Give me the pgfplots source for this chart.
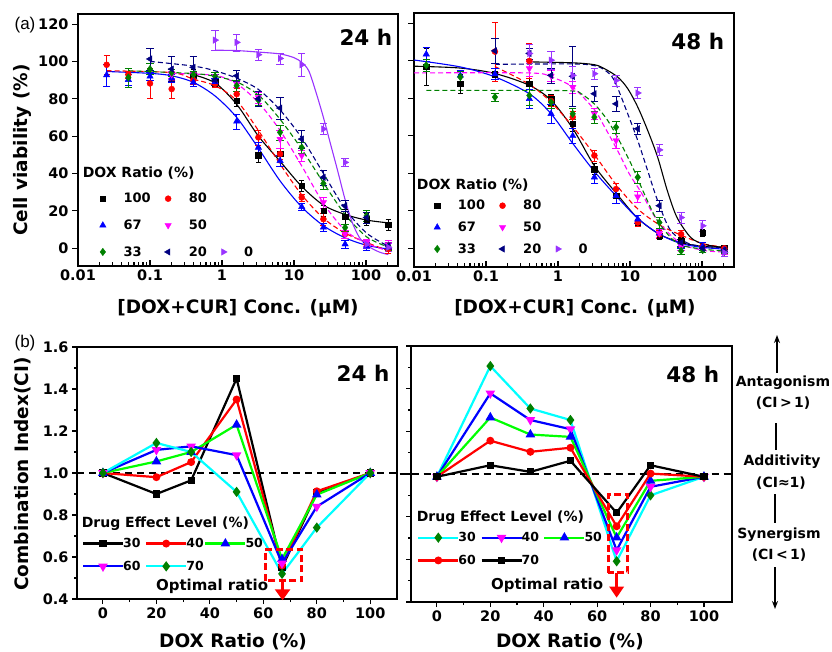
\documentclass[border=0pt]{standalone}
\usepackage{fontspec}
\setmainfont{DejaVu Sans}
\newfontfamily\lib{Liberation Sans}
\usepackage{pgfplots}
\pgfplotsset{compat=1.18}
\usetikzlibrary{arrows.meta}

\definecolor{cvio}{HTML}{9933FF}
\definecolor{cnavy}{HTML}{000080}
\definecolor{cdg}{HTML}{008000}
\definecolor{clg}{HTML}{00FF00}
\definecolor{ccy}{HTML}{00FFFF}
\definecolor{cmag}{HTML}{FF00FF}
\definecolor{cred}{HTML}{FF0000}
\definecolor{cblue}{HTML}{0000FF}

\newcommand\fsz[1]{\fontsize{#1}{#1}\selectfont}
% fixed-width legend texts
\newcommand\la[1]{\makebox[34.6pt][l]{#1}}
\newcommand\lb[1]{\makebox[24.6pt][l]{#1}}
\newcommand\lc[2]{\hspace*{-3pt}\makebox[#1pt][l]{#2}}

\pgfplotsset{
  mybase/.style={
    scale only axis, clip=false,
    axis line style={line width=1.6pt},
    tick style={line width=1.1pt, black},
    tick pos=left,
    /pgf/number format/assume math mode=true,
    tick label style={font=\bfseries\fsz{14.5}},
    label style={font=\bfseries\fsz{18.5}},
    legend cell align=left,
  },
  mycurve/.style={line width=1.1pt, smooth, forget plot},
  mydcurve/.style={line width=1.1pt, smooth, forget plot, dash pattern=on 5pt off 3pt},
  mypts/.style={only marks, error bars/y dir=both, error bars/y explicit, error bars/error bar style={line width=0.8pt}},
  mycil/.style={line width=2.2pt, mark size=3pt, mark options={solid}},
}

\begin{document}
\begin{tikzpicture}
\path[use as bounding box] (0pt,0pt) rectangle (832pt,651pt);

% ---------------- (a) 24 h ----------------
\begin{semilogxaxis}[mybase, at={(78pt,385pt)}, width=320pt, height=252pt,
  xmin=0.01, xmax=278, ymin=-9.6, ymax=125.4,
  xtick={0.01,0.1,1,10,100}, xticklabels={0.01,0.1,1,10,100},
  minor xtick={0.02,0.03,0.04,0.05,0.06,0.07,0.08,0.09,0.2,0.3,0.4,0.5,0.6,0.7,0.8,0.9,2,3,4,5,6,7,8,9,20,30,40,50,60,70,80,90,200},
  ytick={0,20,40,60,80,100,120},
  major tick length=6pt, minor tick length=3.5pt,
  xtick align=inside, ytick align=outside,
  xlabel={[DOX+CUR] Conc. (μM)},
  ylabel={Cell viability (\%)},
  xlabel style={at={(rel axis cs:0.5,-0.167)}, anchor=center},
  ylabel style={at={(rel axis cs:-0.172,0.46)}, anchor=center},
  legend columns=3,
  legend image code/.code={\path[draw=none, fill=none] (0pt,0pt) -- (26.7pt,0pt); \draw[mark repeat=2,mark phase=2,#1] plot coordinates {(0pt,0pt)(8pt,0pt)(16pt,0pt)};},
  legend style={draw=none, fill=none, at={(0.052,0.298)}, anchor=north west,
    inner sep=0pt, font=\bfseries\fsz{13}, row sep=11.5pt,
    /tikz/every odd column/.append style={column sep=0pt},
    /tikz/every even column/.append style={column sep=0pt}},
]
\addplot[cblue, mycurve] coordinates {(0.025,94.6)(0.1,93.6)(0.2,92.3)(0.4,88.8)(0.8,81.5)(1.6,70)(3.2,53.5)(6.4,36)(12.8,22)(25.6,12)(51.2,5.5)(102,1.5)(204,-0.5)};
\addplot[black, mycurve] coordinates {(0.375,93.2)(0.8,88.5)(1.6,77)(3.2,60)(6.4,46.5)(12.8,33)(25.6,23)(51.2,18)(102,15)(204,13.5)};
\addplot[cred, mydcurve] coordinates {(0.025,95)(0.2,94)(0.4,90.5)(0.8,87)(1.6,79)(3.2,63)(6.4,45)(12.8,28.5)(25.6,16)(51.2,8)(102,3)(204,-1.5)};
\addplot[cmag, mydcurve] coordinates {(0.2,93.5)(0.8,92.5)(1.6,88)(3.2,78)(6.4,63)(12.8,44)(25.6,24)(51.2,9.5)(102,2.5)(204,-1.5)};
\addplot[cdg, mydcurve] coordinates {(0.05,95)(0.4,93.5)(0.8,92)(1.6,89)(3.2,82)(6.4,69)(12.8,53)(25.6,35)(51.2,18)(102,6)(204,0.5)};
\addplot[cnavy, mydcurve] coordinates {(0.1,100)(0.4,97.5)(0.8,95)(1.6,91)(3.2,85)(6.4,74)(12.8,59)(25.6,40)(51.2,21)(102,8)(204,1)};
\addplot[cvio, mycurve] coordinates {(0.8,106)(1.6,105.8)(3.2,105)(6.4,104)(10,102)(12.8,99.5)(16,95)(20,84)(25.6,70)(32,56)(40,42)(51.2,26)(64,14)(80,6)(102,1.5)(150,-2)(204,-3.5)};

\addplot[black, mypts, mark=square*, mark size=2.7pt] coordinates {(0.4,92.9)+-(0,3)(0.8,88.8)+-(0,2)(1.6,79)+-(0,3)(3.2,49.8)+-(0,4)(6.4,50.4)+-(0,3)(12.8,33.4)+-(0,3)(25.6,20)+-(0,3)(51.2,16.8)+-(0,4)(102,15.5)+-(0,3)(204,12.5)+-(0,3)};
\addlegendentry{\la{100}}
\addplot[cred, mypts, mark=*, mark size=3pt] coordinates {(0.025,98.2)+-(0,5)(0.05,93)+-(0,2)(0.1,88.2)+-(0,8)(0.2,85.2)+-(0,5)(0.4,90)+-(0,2)(0.8,88)+-(0,2)(1.6,82.5)+-(0,3)(3.2,59.3)+-(0,4)(6.4,50.4)+-(0,3)(12.8,27.1)+-(0,2)(25.6,15.5)+-(0,3)(51.2,7.5)+-(0,2)(102,2)+-(0,2)(204,-0.5)+-(0,2)};
\addlegendentry{\lb{80}}
\addlegendimage{empty legend}\addlegendentry{}
\addplot[cblue, mypts, mark=triangle*, mark size=3.7pt] coordinates {(0.025,92.7)+-(0,5.8)(0.05,90.2)+-(0,3)(0.1,92)+-(0,2)(0.2,91)+-(0,2)(0.4,88.8)+-(0,2)(0.8,89)+-(0,2)(1.6,67.9)+-(0,4)(3.2,53.9)+-(0,3)(6.4,46.8)+-(0,3)(12.8,22.1)+-(0,2)(25.6,11.1)+-(0,2)(51.2,2.1)+-(0,2)(102,1)+-(0,2)(204,0.4)+-(0,2)};
\addlegendentry{\la{67}}
\addplot[cmag, mypts, mark=triangle*, mark size=3.7pt, mark options={rotate=180}] coordinates {(0.2,93)+-(0,2)(0.4,93)+-(0,2)(0.8,92)+-(0,2)(1.6,88)+-(0,2)(3.2,80.7)+-(0,3)(6.4,58.4)+-(0,5)(12.8,49.5)+-(0,3)(25.6,24.5)+-(0,3)(51.2,7.5)+-(0,2)(102,3)+-(0,2)(204,2)+-(0,2)};
\addlegendentry{\lb{50}}
\addlegendimage{empty legend}\addlegendentry{}
\addplot[cdg, mypts, mark=diamond*, mark size=3.7pt] coordinates {(0.05,91.4)+-(0,5)(0.1,95.9)+-(0,3)(0.2,94)+-(0,2)(0.4,93)+-(0,2)(0.8,92)+-(0,2)(1.6,87)+-(0,3)(3.2,79.3)+-(0,3)(6.4,62)+-(0,4)(12.8,53.9)+-(0,3)(25.6,34.6)+-(0,3)(51.2,11)+-(0,2)(102,17.3)+-(0,3)(204,1)+-(0,2)};
\addlegendentry{\la{33}}
\addplot[cnavy, mypts, mark=triangle*, mark size=3.7pt, mark options={rotate=90}] coordinates {(0.1,101.3)+-(0,5.8)(0.2,95.9)+-(0,6.7)(0.4,96.8)+-(0,5.8)(0.8,90)+-(0,3)(1.6,92.3)+-(0,3)(3.2,80)+-(0,4)(6.4,75)+-(0,6)(12.8,58.4)+-(0,5)(25.6,37.9)+-(0,4)(51.2,22.7)+-(0,3)(102,16.4)+-(0,3)(204,1.25)+-(0,2)};
\addlegendentry{\lb{20}}
\addplot[cvio, mypts, mark=triangle*, mark size=3.7pt, mark options={rotate=-90}] coordinates {(0.8,111.4)+-(0,5.5)(1.6,110.2)+-(0,4.5)(3.2,103.6)+-(0,3)(6.4,101.6)+-(0,3)(12.8,98.2)+-(0,6)(25.6,63.8)+-(0,3)(51.2,45.9)+-(0,2)(102,2)+-(0,2)(204,0.4)+-(0,2)};
\addlegendentry{0}

\node[anchor=east, font=\bfseries\fsz{21.5}] at (rel axis cs:0.993,0.909) {24 h};
\node[anchor=west, font=\bfseries\fsz{14}] at (rel axis cs:0.004,0.369) {DOX Ratio (\%)};
\end{semilogxaxis}

% ---------------- (a) 48 h ----------------
\begin{semilogxaxis}[mybase, at={(414pt,384pt)}, width=320pt, height=254pt,
  xmin=0.01, xmax=278, ymin=-10, ymax=125.6,
  xtick={0.01,0.1,1,10,100}, xticklabels={0.01,0.1,1,10,100},
  minor xtick={0.02,0.03,0.04,0.05,0.06,0.07,0.08,0.09,0.2,0.3,0.4,0.5,0.6,0.7,0.8,0.9,2,3,4,5,6,7,8,9,20,30,40,50,60,70,80,90,200},
  ytick={0,20,40,60,80,100,120}, yticklabels={},
  major tick length=6pt, minor tick length=3.5pt,
  xtick align=inside, ytick align=outside,
  xlabel={[DOX+CUR] Conc. (μM)},
  xlabel style={at={(rel axis cs:0.503,-0.162)}, anchor=center},
  legend columns=3,
  legend image code/.code={\path[draw=none, fill=none] (0pt,0pt) -- (26.7pt,0pt); \draw[mark repeat=2,mark phase=2,#1] plot coordinates {(0pt,0pt)(8pt,0pt)(16pt,0pt)};},
  legend style={draw=none, fill=none, at={(0.047,0.272)}, anchor=north west,
    inner sep=0pt, font=\bfseries\fsz{13}, row sep=6.5pt,
    /tikz/every odd column/.append style={column sep=0pt},
    /tikz/every even column/.append style={column sep=0pt}},
]
\addplot[black, mycurve] coordinates {(0.01,97.2)(0.044,96.2)(0.133,93.3)(0.4,87)(0.8,79)(1.6,64)(3.2,44)(6.4,29.5)(12.8,16)(25.6,7.5)(51.2,3)(102,1)(204,0.5)};
\addplot[cblue, mycurve] coordinates {(0.01,100.5)(0.044,96.8)(0.133,91.5)(0.4,82.5)(0.8,71.8)(1.6,56)(3.2,41)(6.4,28)(12.8,16)(25.6,7.5)(51.2,2.5)(102,0.5)(204,-0.5)};
\addplot[cred, mydcurve] coordinates {(0.133,97)(0.4,87.5)(0.8,78)(1.6,65)(3.2,50)(6.4,34)(12.8,21)(25.6,12.5)(51.2,7)(102,2.5)(204,0.5)};
\addplot[cmag, mydcurve] coordinates {(0.01,93.6)(0.4,93.6)(0.8,91.5)(1.6,86)(3.2,74)(4.2,66.4)(6.75,52)(9.8,39.6)(14.2,30)(24.2,14.6)(51,2.5)(108,-1.2)(204,-2)};
\addplot[cdg, mydcurve] coordinates {(0.0148,84.3)(0.4,84.3)(1.6,84)(2.1,82.5)(3.2,77)(4.9,68.2)(7.5,55.7)(10.9,43.2)(15.8,29)(24.2,14.6)(45.9,2.5)(108,-0.5)(204,-1.5)};
\addplot[cnavy, mydcurve] coordinates {(0.133,98.2)(1.6,98.4)(3.2,97.5)(4.5,95)(6.05,89.6)(9.29,71.8)(12.8,57.5)(17.6,41.4)(24.2,25.4)(37,9.3)(70,2.1)(184,0.4)};
\addplot[black, mycurve] coordinates {(0.4,99.5)(1.6,99)(3.2,98)(4.4,95.9)(6.75,91.4)(9.3,85.2)(12.8,75.4)(17.6,62.9)(24.2,48.6)(33,30.7)(45,16.4)(70,5.7)(108,2.1)(198,0.4)};

\addplot[black, mypts, mark=square*, mark size=2.7pt] coordinates {(0.0148,97)+-(0,10)(0.044,87.9)+-(0,5)(0.133,93)+-(0,3)(0.4,88)+-(0,3)(0.8,79.5)+-(0,3)(1.6,66.4)+-(0,4)(3.2,42.3)+-(0,3)(6.4,28)+-(0,4)(12.8,13.75)+-(0,2)(25.6,6.6)+-(0,2)(51.2,4)+-(0,2)(102,8.4)+-(0,2)(204,0)+-(0,1)};
\addlegendentry{\la{100}}
\addplot[cred, mypts, mark=*, mark size=3pt] coordinates {(0.133,105)+-(0,15.6)(0.4,100)+-(0,9.4)(0.8,78.6)+-(0,3)(1.6,70)+-(0,3)(3.2,49.5)+-(0,3)(6.4,31.6)+-(0,3)(12.8,13.75)+-(0,2)(25.6,7.5)+-(0,2)(51.2,7.5)+-(0,2)(102,1)+-(0,1)(204,0)+-(0,1)};
\addlegendentry{\lb{80}}
\addlegendimage{empty legend}\addlegendentry{}
\addplot[cblue, mypts, mark=triangle*, mark size=3.7pt] coordinates {(0.0148,103.6)+-(0,3.5)(0.044,92.3)+-(0,3)(0.133,93)+-(0,3)(0.4,79.8)+-(0,5)(0.8,71.8)+-(0,5)(1.6,60)+-(0,4)(3.2,37.9)+-(0,3)(6.4,28)+-(0,4)(12.8,15.5)+-(0,2)(25.6,8)+-(0,2)(51.2,2)+-(0,2)(102,1)+-(0,2)(204,-1)+-(0,1)};
\addlegendentry{\la{67}}
\addplot[cmag, mypts, mark=triangle*, mark size=3.7pt, mark options={rotate=180}] coordinates {(0.4,96)+-(0,4)(0.8,92)+-(0,3)(1.6,86)+-(0,3)(3.2,71.8)+-(0,3)(6.4,57.5)+-(0,4)(12.8,27.5)+-(0,3)(25.6,8)+-(0,2)(51.2,1)+-(0,2)(102,-1)+-(0,1)(204,-2)+-(0,1)};
\addlegendentry{\lb{50}}
\addlegendimage{empty legend}\addlegendentry{}
\addplot[cdg, mypts, mark=diamond*, mark size=3.7pt] coordinates {(0.0148,97.7)+-(0,3)(0.044,91.4)+-(0,3)(0.133,80.7)+-(0,2)(0.4,81.6)+-(0,5)(0.8,78)+-(0,3)(1.6,71.8)+-(0,3)(3.2,70)+-(0,3)(6.4,64.6)+-(0,3)(12.8,37.9)+-(0,3)(25.6,13.75)+-(0,3)(51.2,-1.4)+-(0,2)(102,-1)+-(0,1)(204,-1.8)+-(0,1)};
\addlegendentry{\la{33}}
\addplot[cnavy, mypts, mark=triangle*, mark size=3.7pt, mark options={rotate=90}] coordinates {(0.133,105.4)+-(0,6.7)(0.4,104)+-(0,3)(0.8,92.3)+-(0,4)(1.6,91.8)+-(0,16)(3.2,82.5)+-(0,4)(6.4,77.1)+-(0,4)(12.8,63.8)+-(0,3)(25.6,22.7)+-(0,3)(51.2,3)+-(0,2)(102,0)+-(0,1)(204,-1)+-(0,1)};
\addlegendentry{\lb{20}}
\addplot[cvio, mypts, mark=triangle*, mark size=3.7pt, mark options={rotate=-90}] coordinates {(0.4,104)+-(0,5)(0.8,100.4)+-(0,5)(1.6,92.3)+-(0,5)(3.2,93.2)+-(0,3)(6.4,89.6)+-(0,3)(12.8,82.9)+-(0,3)(25.6,52.5)+-(0,3)(51.2,16.4)+-(0,3)(102,12)+-(0,3)(204,-2.3)+-(0,2)};
\addlegendentry{0}

\node[anchor=east, font=\bfseries\fsz{21.5}] at (rel axis cs:0.980,0.889) {48 h};
\node[anchor=west, font=\bfseries\fsz{14}] at (rel axis cs:-0.002,0.321) {DOX Ratio (\%)};
\end{semilogxaxis}

% ---------------- (b) 24 h ----------------
\begin{axis}[mybase, at={(77pt,52pt)}, width=320pt, height=252pt,
  xmin=-9.7, xmax=110, ymin=0.4, ymax=1.6,
  xtick={0,20,40,60,80,100}, minor xtick={10,30,50,70,90},
  ytick={0.4,0.6,0.8,1.0,1.2,1.4,1.6},
  yticklabels={0.4,0.6,0.8,1.0,1.2,1.4,1.6},
  minor ytick={0.5,0.7,0.9,1.1,1.3,1.5},
  tick align=outside,
  major tick length=5pt, minor tick length=3pt,
  xlabel={DOX Ratio (\%)},
  ylabel={Combination Index(CI)},
  xlabel style={at={(rel axis cs:0.4875,-0.171)}, anchor=center},
  ylabel style={at={(rel axis cs:-0.169,0.496)}, anchor=center},
  legend columns=3,
  legend image code/.code={\draw[mark repeat=2,mark phase=2,#1] plot coordinates {(0pt,0pt)(20pt,0pt)(40pt,0pt)};},
  legend style={draw=none, fill=none, at={(0.0147,0.25)}, anchor=north west,
    inner sep=0pt, font=\bfseries\fsz{12.5}, row sep=8pt,
    /tikz/every odd column/.append style={column sep=0pt},
    /tikz/every even column/.append style={column sep=0pt}},
]
\addplot[black, line width=1.3pt, dash pattern=on 7pt off 5pt, forget plot] coordinates {(-9.7,1)(110,1)};
\addplot[black, mycil, mark=square*, mark size=2.5pt] coordinates {(0,1.0)(20,0.90)(33,0.965)(50,1.45)(67,0.55)(80,0.905)(100,1.0)};
\addlegendentry{\lc{20}{30}}
\addplot[cred, mycil, mark=*, mark size=2.8pt] coordinates {(0,1.0)(20,0.98)(33,1.052)(50,1.35)(67,0.56)(80,0.913)(100,1.0)};
\addlegendentry{\lc{16}{40}}
\addplot[clg, mycil, mark=triangle*, mark size=3.4pt, mark options={solid, cblue}] coordinates {(0,1.0)(20,1.055)(33,1.10)(50,1.23)(67,0.59)(80,0.897)(100,1.0)};
\addlegendentry{\lc{16}{50}}
\addplot[cblue, mycil, mark=triangle*, mark size=3.4pt, mark options={solid, cmag, rotate=180}] coordinates {(0,1.0)(20,1.11)(33,1.127)(50,1.085)(67,0.57)(80,0.84)(100,1.0)};
\addlegendentry{\lc{20}{60}}
\addplot[ccy, mycil, mark=diamond*, mark size=3.4pt, mark options={solid, cdg}] coordinates {(0,1.0)(20,1.143)(33,1.10)(50,0.91)(67,0.52)(80,0.74)(100,1.0)};
\addlegendentry{\lc{16}{70}}

\draw[cred, line width=3pt, dash pattern=on 7pt off 3.5pt] (axis cs:60.8,0.487) rectangle (axis cs:74.4,0.637);
\draw[cred, line width=3.5pt, -{Triangle[width=15pt,length=11pt]}] (axis cs:67.2,0.487) -- (axis cs:67.2,0.394);
\node[font=\bfseries\fsz{15}] at (rel axis cs:0.422,0.052) {Optimal ratio};
\node[anchor=east, font=\bfseries\fsz{21.5}] at (rel axis cs:0.987,0.897) {24 h};
\node[anchor=west, font=\bfseries\fsz{14}] at (rel axis cs:0.004,0.298) {Drug Effect Level (\%)};
\end{axis}

% ---------------- (b) 48 h ----------------
\begin{axis}[mybase, at={(411pt,49pt)}, width=321pt, height=256pt,
  xmin=-9.7, xmax=110.5, ymin=0.4, ymax=1.6,
  xtick={0,20,40,60,80,100}, minor xtick={10,30,50,70,90},
  ytick={0.4,0.6,0.8,1.0,1.2,1.4,1.6}, yticklabels={},
  minor ytick={0.5,0.7,0.9,1.1,1.3,1.5},
  tick align=outside,
  major tick length=5pt, minor tick length=3pt,
  xlabel={DOX Ratio (\%)},
  xlabel style={at={(rel axis cs:0.495,-0.156)}, anchor=center},
  legend columns=3,
  legend image code/.code={\draw[mark repeat=2,mark phase=2,#1] plot coordinates {(0pt,0pt)(20pt,0pt)(40pt,0pt)};},
  legend style={draw=none, fill=none, at={(0.0187,0.281)}, anchor=north west,
    inner sep=0pt, font=\bfseries\fsz{12.5}, row sep=8pt,
    /tikz/every odd column/.append style={column sep=0pt},
    /tikz/every even column/.append style={column sep=0pt}},
]
\addplot[black, line width=1.3pt, dash pattern=on 7pt off 5pt, forget plot] coordinates {(-14,1)(110.5,1)};
\addplot[ccy, mycil, mark=diamond*, mark size=3.4pt, mark options={solid, cdg}] coordinates {(0,0.987)(20,1.506)(35,1.307)(50,1.253)(67.3,0.591)(80,0.90)(100,0.987)};
\addlegendentry{\lc{20}{30}}
\addplot[cblue, mycil, mark=triangle*, mark size=3.4pt, mark options={solid, cmag, rotate=180}] coordinates {(0,0.987)(20,1.378)(35,1.253)(50,1.21)(67.3,0.643)(80,0.94)(100,0.987)};
\addlegendentry{\lc{19.7}{40}}
\addplot[clg, mycil, mark=triangle*, mark size=3.4pt, mark options={solid, cblue}] coordinates {(0,0.987)(20,1.265)(35,1.185)(50,1.174)(67.3,0.702)(80,0.968)(100,0.987)};
\addlegendentry{\lc{16}{50}}
\addplot[cred, mycil, mark=*, mark size=2.8pt] coordinates {(0,0.987)(20,1.156)(35,1.104)(50,1.123)(67.3,0.755)(80,1.002)(100,0.987)};
\addlegendentry{\lc{20}{60}}
\addplot[black, mycil, mark=square*, mark size=2.5pt] coordinates {(0,0.987)(20,1.041)(35,1.01)(50,1.062)(67.3,0.818)(80,1.041)(100,0.987)};
\addlegendentry{\lc{19.7}{70}}

\draw[cred, line width=3pt, dash pattern=on 7pt off 3.5pt] (axis cs:64.2,0.537) rectangle (axis cs:71.4,0.902);
\draw[cred, line width=3.5pt, -{Triangle[width=14pt,length=11pt]}] (axis cs:67.3,0.537) -- (axis cs:67.3,0.42);
\node[font=\bfseries\fsz{15}] at (rel axis cs:0.424,0.066) {Optimal ratio};
\node[anchor=east, font=\bfseries\fsz{21.5}] at (rel axis cs:0.971,0.887) {48 h};
\node[anchor=west, font=\bfseries\fsz{14}] at (rel axis cs:0.007,0.328) {Drug Effect Level (\%)};
\end{axis}

% panel letters
\node[font=\lib\fsz{17}] at (25pt,626pt) {(a)};
\node[font=\lib\fsz{17}] at (25pt,308pt) {(b)};

% right-hand annotation
\begin{scope}[font=\bfseries\fsz{14}]
\draw[line width=1.3pt, -{Stealth[length=8pt,width=6pt]}] (777pt,278pt) -- (777pt,316pt);
\node at (783pt,268pt) {Antagonism};
\node at (783pt,248pt) {(CI\,>\,1)};
\draw[line width=1.3pt] (776pt,228pt) -- (776pt,201pt);
\node at (782pt,189pt) {Additivity};
\node at (781pt,168pt) {(CI≈1)};
\draw[line width=1.3pt] (775pt,157pt) -- (775pt,128pt);
\node at (779pt,116pt) {Synergism};
\node at (779pt,96pt) {(CI\,<\,1)};
\draw[line width=1.3pt, -{Stealth[length=8pt,width=6pt]}] (775pt,84pt) -- (775pt,42pt);
\end{scope}
\end{tikzpicture}
\end{document}
